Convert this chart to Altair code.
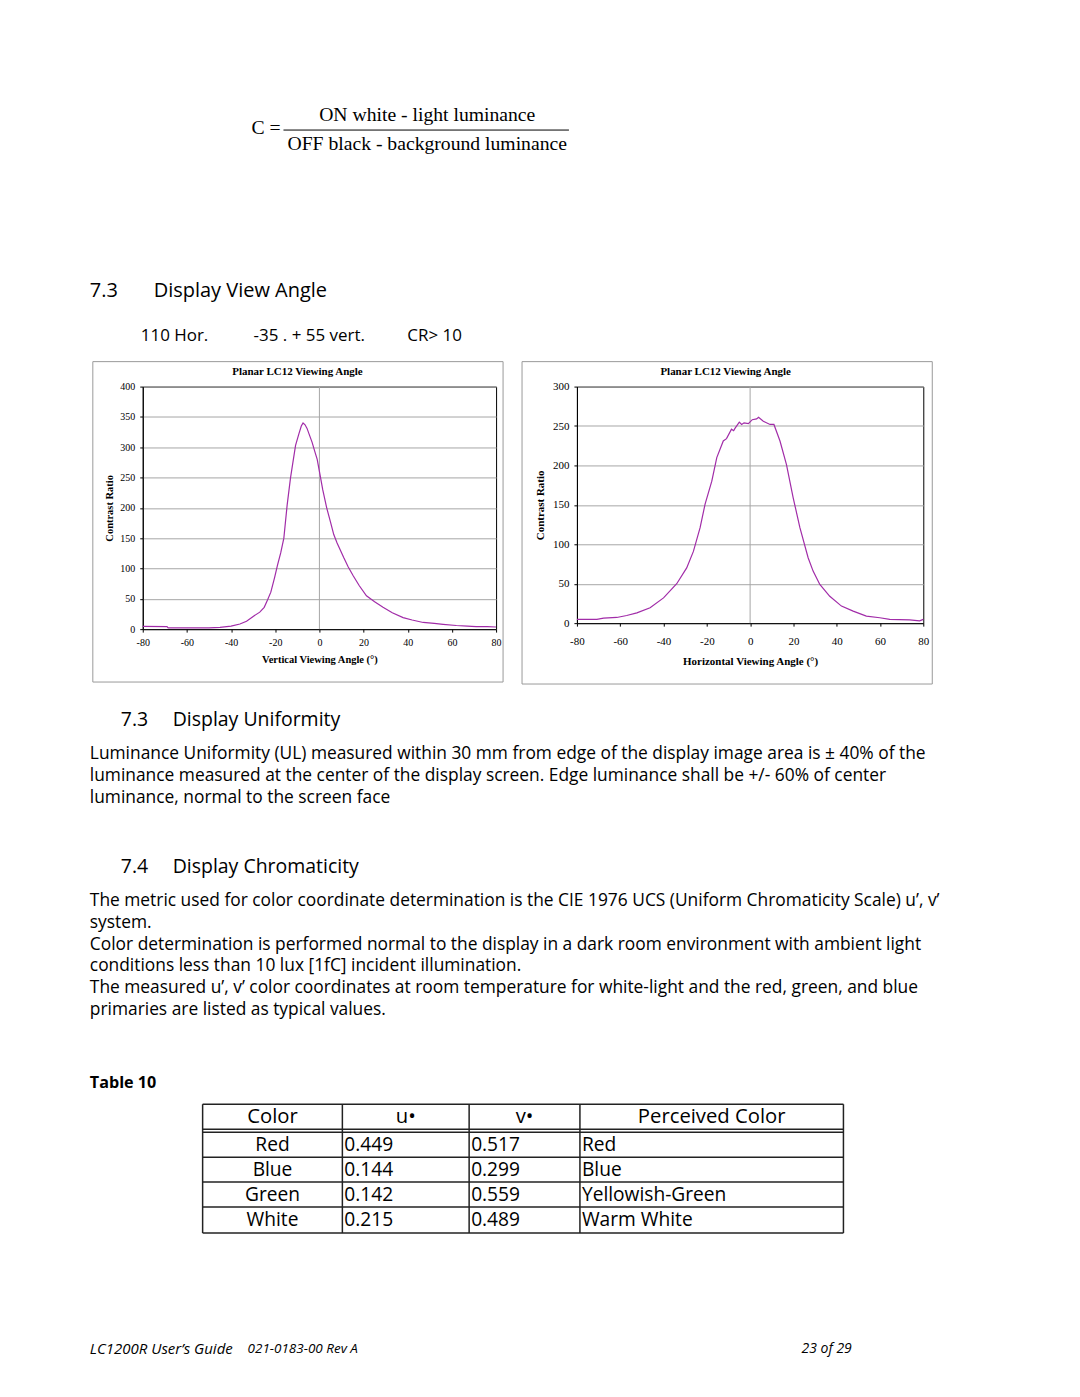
import altair as alt
import pandas as pd

# ---------------- chart data ----------------
VERT_ANGLE = [-80, -69, -68.5, -60, -50, -45, -40, -36, -33, -30, -27, -25, -23.5, -22,
              -20.3, -19, -17.5, -16.1, -14.6, -13.1, -12, -10.8, -9.3, -8.2, -7.4, -6.5,
              -5.6, -4.5, -3.3, -2, -1, 0, 1.5, 3.3, 5, 6.5, 8, 9.5, 11, 13, 15.3, 18,
              21.3, 25, 28.8, 33, 37.9, 42, 47, 52, 56, 62, 67, 71, 76, 80]
VERT_CR = [4.4, 4, 2, 2, 2, 3, 5, 8.5, 13, 21, 28, 36, 48, 61,
           85, 105, 126, 150, 205, 249, 275, 303, 322, 335, 340, 337,
           331, 320, 308, 292, 280, 260, 230, 200, 177, 156, 142, 130, 118, 103, 88, 72,
           55, 45, 36, 27, 19, 15, 11, 9.5, 8, 6, 5, 4, 4, 3.5]

HOR_ANGLE = [-80, -70.8, -67.7, -61.6, -57, -52.3, -46.2, -40, -33.9, -29.3, -26.2, -23.1,
             -20.8, -17.7, -15.4, -12.4, -10.9, -8.6, -7.6, -7, -5, -3.9, -2.8, -0.8, 1,
             3, 3.9, 6.1, 9.2, 11, 13.8, 16.8, 19.9, 23, 26.8, 29.1, 32.2, 36.8, 42.2,
             47.6, 53.7, 59.9, 64.5, 73.7, 78.3, 80]
HOR_CR = [4.7, 4.7, 6.3, 7.2, 9.7, 13, 19.5, 32, 50, 70, 91, 121,
          151, 180, 210, 231, 234, 246, 244, 247, 255, 252, 254, 253, 258,
          259, 261, 256, 252, 252, 231, 201, 159, 121, 83, 66, 49, 34, 21.6,
          15.2, 8.9, 6.8, 4.7, 4.2, 3, 4.7]

X_TICKS = [-80, -60, -40, -20, 0, 20, 40, 60, 80]
VERT_Y_TICKS = [0, 50, 100, 150, 200, 250, 300, 350, 400]
HOR_Y_TICKS = [0, 50, 100, 150, 200, 250, 300]

CHART_TITLE = "Planar LC12 Viewing Angle"
VERT_X_TITLE = "Vertical Viewing Angle (°)"
HOR_X_TITLE = "Horizontal Viewing Angle (°)"
Y_TITLE = "Contrast Ratio"

# ---------------- page text ----------------
FORMULA_LHS = "C ="
FORMULA_NUM = "ON white - light luminance"
FORMULA_DEN = "OFF black - background luminance"
SEC_VIEW = ["7.3", "Display View Angle"]
VIEW_SPECS = ["110 Hor.", "-35 . + 55 vert.", "CR> 10"]
SEC_UNIF = ["7.3", "Display Uniformity"]
PARA_UNIF = [
    "Luminance Uniformity (UL) measured within 30 mm from edge of the display image area is ± 40% of the",
    "luminance measured at the center of the display screen.  Edge luminance shall be +/- 60% of center",
    "luminance, normal to the screen face",
]
SEC_CHROM = ["7.4", "Display Chromaticity"]
PARA_CHROM = [
    "The metric used for color coordinate determination is the CIE 1976 UCS (Uniform Chromaticity Scale) u’, v’",
    "system.",
    "Color determination is performed normal to the display in a dark room environment with ambient light",
    "conditions less than 10 lux [1fC] incident illumination.",
    "The measured u’, v’ color coordinates at room temperature for white-light and the red, green, and blue",
    "primaries are listed as typical values.",
]
TABLE_CAPTION = "Table 10"
TABLE_HEADER = ["Color", "u•", "v•", "Perceived Color"]
COLORS = ["Red", "Blue", "Green", "White"]
U_VALUES = [0.449, 0.144, 0.142, 0.215]
V_VALUES = [0.517, 0.299, 0.559, 0.489]
PERCEIVED = ["Red", "Blue", "Yellowish-Green", "Warm White"]
FOOTER = ["LC1200R User’s Guide", "021-0183-00 Rev A", "23 of 29"]

# ---------------- styles / layout ----------------
SERIF = "Liberation Serif"
SANS = "Open Sans"
PURPLE = "#a12ca8"
GRID = "#a6a6a6"
FRAME = "#9a9a9a"
PAGE_W, PAGE_H = 1080, 1397
OX, OY = 142, 385          # page position of the left plot's origin
OX2 = 577                  # page x of the right plot's origin
DUMMY = alt.Data(values=[{"k": 1}])
BODY = 17.4


def txt(s, x, y, size, font=SANS, align="left", weight="normal", style="normal", ox=OX, oy=OY):
    return alt.Chart(DUMMY).mark_text(
        text=s, font=font, fontSize=size, align=align, baseline="middle",
        fontWeight=weight, fontStyle=style, color="black"
    ).encode(x=alt.value(x - ox), y=alt.value(y - oy))


def hline(x1, x2, y, width=1.0, color="black", ox=OX, oy=OY):
    return alt.Chart(DUMMY).mark_rule(color=color, strokeWidth=width).encode(
        x=alt.value(x1 - ox), x2=alt.value(x2 - ox), y=alt.value(y - oy))


def vline(x, y1, y2, width=1.0, color="black", ox=OX, oy=OY):
    return alt.Chart(DUMMY).mark_rule(color=color, strokeWidth=width).encode(
        x=alt.value(x - ox), y=alt.value(y1 - oy), y2=alt.value(y2 - oy))


def frame(x1, y1, x2, y2, ox, oy):
    return alt.Chart(DUMMY).mark_rect(filled=False, color=FRAME, strokeWidth=1).encode(
        x=alt.value(x1 - ox), y=alt.value(y1 - oy), x2=alt.value(x2 - ox), y2=alt.value(y2 - oy))


LABEL_EXPR = "'' + datum.value"


def line_chart(angles, crs, ymax, yticks, xtitle, lab_pad, title_pad, ytitle_pad, lab_size, title_size):
    df = pd.DataFrame({"angle": angles, "cr": crs})
    line = alt.Chart(df).mark_line(color=PURPLE, strokeWidth=1.2).encode(
        x=alt.X("angle:Q", scale=alt.Scale(domain=[-80, 80], nice=False, zero=False),
                axis=alt.Axis(values=X_TICKS, grid=False, title=xtitle, tickSize=3,
                              labelPadding=lab_pad, titlePadding=title_pad,
                              labelFontSize=lab_size, titleFontSize=title_size,
                              labelExpr=LABEL_EXPR, labelFlush=False)),
        y=alt.Y("cr:Q", scale=alt.Scale(domain=[0, ymax], nice=False),
                axis=alt.Axis(values=yticks, grid=True, title=Y_TITLE, tickSize=3,
                              labelFontSize=lab_size, titleFontSize=title_size,
                              labelPadding=5, titlePadding=ytitle_pad, labelExpr=LABEL_EXPR)),
    )
    zero = alt.Chart(DUMMY).mark_rule(color=GRID, strokeWidth=1).encode(x=alt.datum(0))
    return zero, line


# ---------------- left chart + all page text ----------------
zero1, line1 = line_chart(VERT_ANGLE, VERT_CR, 400, VERT_Y_TICKS, VERT_X_TITLE, 5, 7, 5, 10, 10.5)

page_bounds = alt.Chart(DUMMY).mark_rect(opacity=0).encode(
    x=alt.value(-OX), y=alt.value(-OY), x2=alt.value(PAGE_W - OX), y2=alt.value(PAGE_H - OY))

layers1 = [page_bounds, frame(92, 360, 503, 681, OX, OY), zero1, line1,
           txt(CHART_TITLE, 297, 370, 11, font=SERIF, align="center", weight="bold")]

# formula
layers1 += [
    txt(FORMULA_LHS, 251, 126, 19.7, font=SERIF),
    txt(FORMULA_NUM, 427, 113, 19.7, font=SERIF, align="center"),
    txt(FORMULA_DEN, 427, 141.5, 19.7, font=SERIF, align="center"),
    hline(283, 569, 128, 1.0),
]
# section 7.3 view angle
layers1 += [txt(SEC_VIEW[0], 89, 289, 20), txt(SEC_VIEW[1], 153, 289, 20)]
for s, x in zip(VIEW_SPECS, [140, 253, 407]):
    layers1.append(txt(s, x, 334, 17))
# section uniformity
layers1 += [txt(SEC_UNIF[0], 120, 719, 19.5), txt(SEC_UNIF[1], 172, 719, 19.5)]
for i, s in enumerate(PARA_UNIF):
    layers1.append(txt(s, 89, 753 + 22 * i, BODY))
# section chromaticity
layers1 += [txt(SEC_CHROM[0], 120, 866, 19.5), txt(SEC_CHROM[1], 172, 866, 19.5)]
for i, s in enumerate(PARA_CHROM):
    layers1.append(txt(s, 89, 900 + 22 * i, BODY))
# table
layers1.append(txt(TABLE_CAPTION, 89, 1083, 16.2, weight="bold"))
COL_X = [202, 342, 469, 580, 844]
ROW_Y = [1104, 1129, 1132, 1157, 1182, 1207, 1233]
for y in ROW_Y:
    layers1.append(hline(COL_X[0], COL_X[-1], y, 1.5, "#222"))
for x in COL_X:
    layers1.append(vline(x, ROW_Y[0], ROW_Y[-1], 1.5, "#222"))
for j, h in enumerate(TABLE_HEADER):
    layers1.append(txt(h, (COL_X[j] + COL_X[j + 1]) / 2, 1117, 20.3, align="center"))
row_centers = [1144.5, 1169.5, 1194.5, 1220]
for i in range(len(COLORS)):
    yc = row_centers[i]
    layers1.append(txt(COLORS[i], (COL_X[0] + COL_X[1]) / 2, yc, 19.2, align="center"))
    layers1.append(txt(f"{U_VALUES[i]:.3f}", COL_X[1] + 2, yc, 19.2))
    layers1.append(txt(f"{V_VALUES[i]:.3f}", COL_X[2] + 2, yc, 19.2))
    layers1.append(txt(PERCEIVED[i], COL_X[3] + 2, yc, 19.2))
# footer
layers1 += [
    txt(FOOTER[0], 89, 1349, 15, style="italic"),
    txt(FOOTER[1], 247, 1349, 13.5, style="italic"),
    txt(FOOTER[2], 802, 1349, 14, style="italic"),
]

chart1 = alt.layer(*layers1).properties(width=496 - OX, height=628 - OY)

# ---------------- right chart ----------------
zero2, line2 = line_chart(HOR_ANGLE, HOR_CR, 300, HOR_Y_TICKS, HOR_X_TITLE, 9, 9, 7, 11, 11)
chart2 = alt.layer(
    frame(522, 360, 933, 683, OX2, OY),
    zero2, line2,
    txt(CHART_TITLE, 726, 370, 11, font=SERIF, align="center", weight="bold", ox=OX2, oy=OY),
).properties(width=924 - OX2, height=237)

chart = alt.hconcat(chart1, chart2, spacing=OX2 - 496, bounds="flush", padding=0).configure_view(
    stroke="black", strokeWidth=1
).configure_axis(
    labelFont=SERIF, titleFont=SERIF, labelFontSize=9, titleFontSize=9.5,
    titleFontWeight="bold", labelColor="black", titleColor="black",
    tickColor="black", domainColor="black", gridColor=GRID, gridWidth=1,
)

chart.save("out.html", embed_options={"renderer": "svg", "actions": False})
